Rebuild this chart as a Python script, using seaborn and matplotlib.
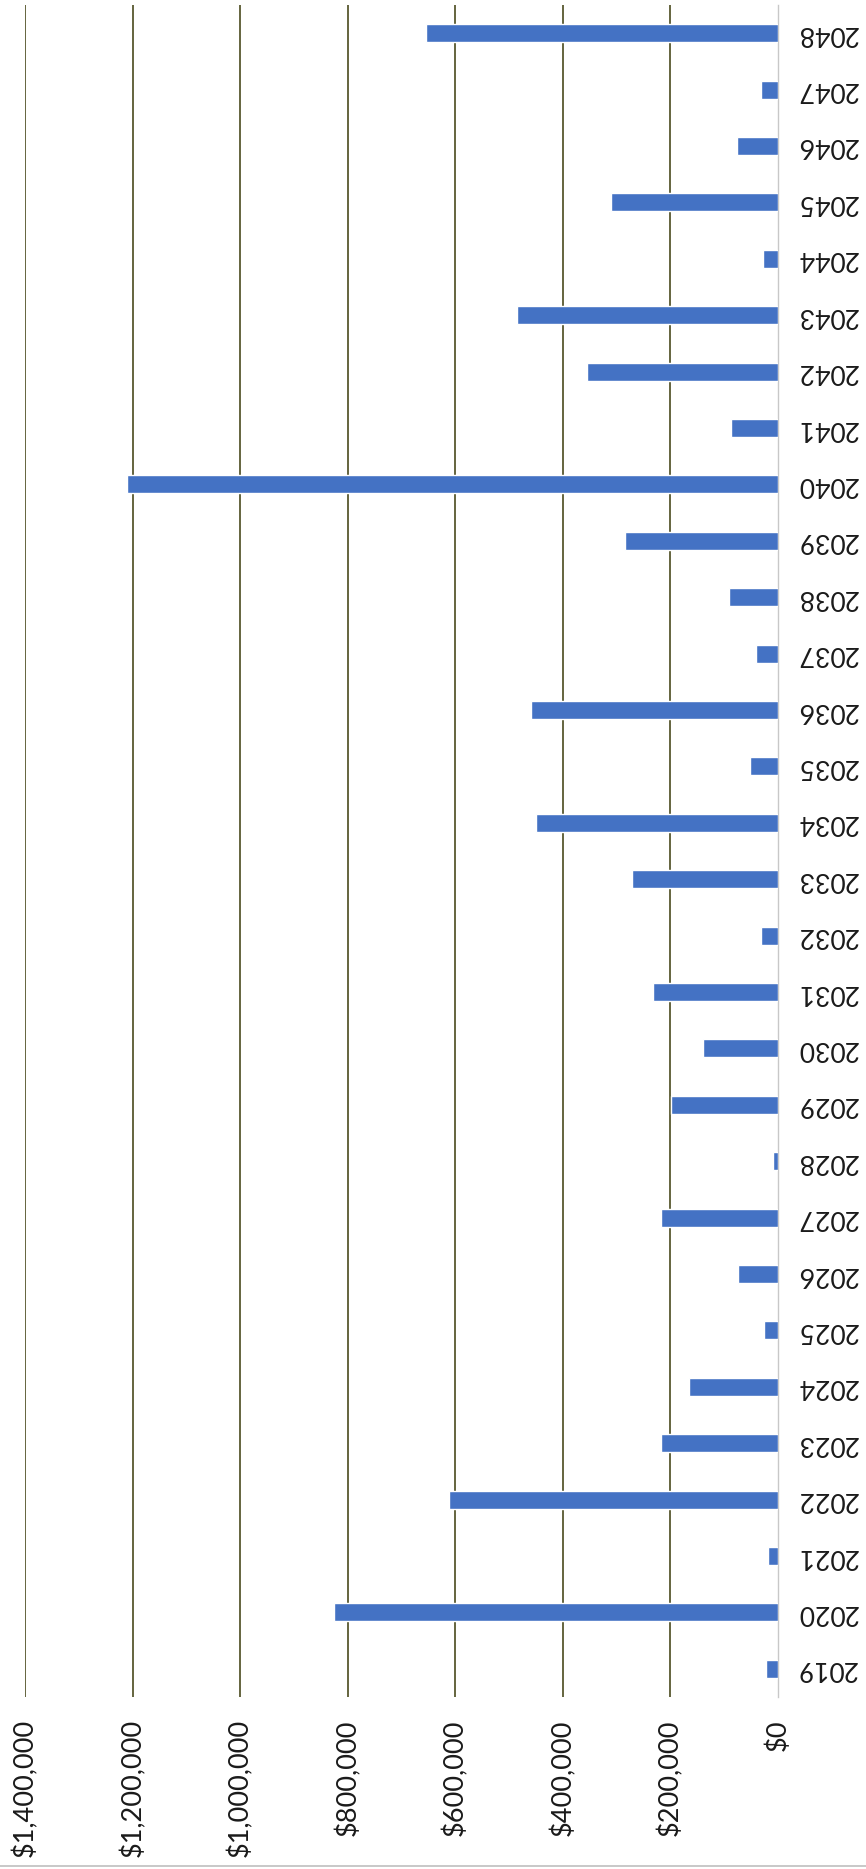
import matplotlib
matplotlib.use("Agg")
import matplotlib.pyplot as plt
import seaborn as sns
import pandas as pd
from matplotlib.lines import Line2D

# years and yearly amounts
years = [str(y) for y in range(2019, 2049)]
amounts = [22000, 826000, 18000, 612000, 218000, 166000, 26000, 74000, 218000, 9000,
           199000, 140000, 233000, 31000, 272000, 450000, 52000, 459000, 40000, 91000,
           285000, 1211000, 88000, 356000, 486000, 28000, 311000, 77000, 31000, 654000]
tick_values = [0, 200000, 400000, 600000, 800000, 1000000, 1200000, 1400000]
tick_labels = ['$0', '$200,000', '$400,000', '$600,000', '$800,000',
               '$1,000,000', '$1,200,000', '$1,400,000']

df = pd.DataFrame({'year': years, 'amount': amounts})

sns.set_style('white')
plt.rcParams['font.family'] = ['Lato', 'DejaVu Sans']

fig = plt.figure(figsize=(8.66, 18.69), dpi=100)
ax = fig.add_axes([25 / 866, 1 - 1697 / 1869, (778 - 25) / 866, (1697 - 5) / 1869])

# top of the chart is the last year
order = years[::-1]
sns.barplot(data=df, x='amount', y='year', order=order, orient='h',
            color='#4472C4', width=0.32, saturation=1, ax=ax, zorder=3)

ax.set_xlim(1400000, 0)
ax.set_ylim(len(years) - 0.5, -0.5)

# gridlines (the zero line is the light axis line)
for v in tick_values[1:]:
    ax.axvline(v, color='#4a4a1e', lw=1.2, zorder=1)

for s in ['top', 'left', 'bottom']:
    ax.spines[s].set_visible(False)
ax.spines['right'].set_color('#c8c8c8')
ax.spines['right'].set_linewidth(1.0)

ax.set_xticks(tick_values)
ax.set_xticklabels(tick_labels, rotation=90, fontsize=19.5, color='#1a1a1a')
ax.tick_params(axis='x', length=0, pad=16)

ax.yaxis.tick_right()
ax.tick_params(axis='y', length=0, pad=13)
for lab in ax.get_yticklabels():
    lab.set_rotation(180)
    lab.set_fontsize(19)
    lab.set_color('#1a1a1a')
    lab.set_va('center')
    lab.set_ha('left')

ax.set_xlabel('')
ax.set_ylabel('')

# chart border line at the bottom
fig.add_artist(Line2D([0, 1], [1 - 1866 / 1869] * 2, transform=fig.transFigure,
                      color='#bfbfbf', lw=1.2))

fig.savefig('out.png', dpi=100)
